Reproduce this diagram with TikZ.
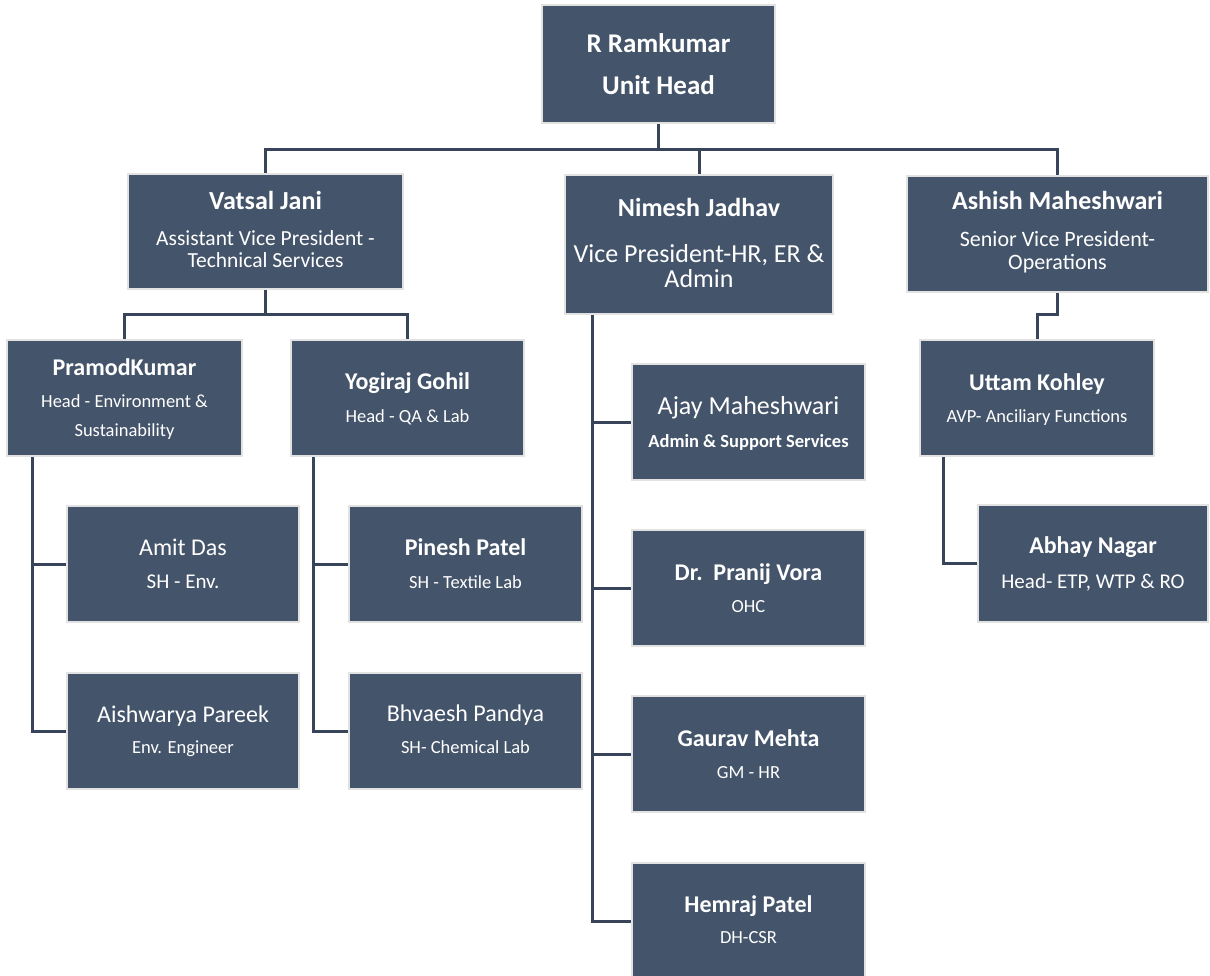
\documentclass[tikz,border=0pt]{standalone}
\usepackage{fontspec}
\setmainfont{Carlito}
\usetikzlibrary{backgrounds}
\definecolor{boxfill}{RGB}{68,84,106}
\definecolor{boxedge}{RGB}{226,226,226}
\definecolor{wirecol}{RGB}{55,68,90}
\tikzset{
  box/.style={rectangle, fill=boxfill, draw=boxedge, line width=2.5pt, inner sep=0pt, outer sep=0pt},
  wire/.style={draw=wirecol, line width=3pt},
  txt/.style n args={2}{font=\fontsize{#1}{#1}\selectfont#2, text=white, inner sep=0pt, anchor=base},
}
\begin{document}
\begin{tikzpicture}[x=1pt,y=-1pt]
\useasboundingbox (0,0) rectangle (1210,976);
% boxes
\node[box, minimum width=233pt, minimum height=118pt] (top) at (658.5,64) {};
\node[box, minimum width=275pt, minimum height=115pt] (vatsal) at (265.5,231.5) {};
\node[box, minimum width=268pt, minimum height=139pt] (nimesh) at (699,244.5) {};
\node[box, minimum width=301pt, minimum height=116pt] (ashish) at (1057.5,234) {};
\node[box, minimum width=235pt, minimum height=116pt] (pramod) at (124.5,398) {};
\node[box, minimum width=233pt, minimum height=116pt] (yogiraj) at (407.5,398) {};
\node[box, minimum width=234pt, minimum height=116pt] (uttam) at (1037,398) {};
\node[box, minimum width=230pt, minimum height=117pt] (abhay) at (1093,563.5) {};
\node[box, minimum width=232pt, minimum height=116pt] (amit) at (183,564) {};
\node[box, minimum width=232pt, minimum height=116pt] (aish) at (183,731) {};
\node[box, minimum width=233pt, minimum height=116pt] (pinesh) at (465.5,564) {};
\node[box, minimum width=233pt, minimum height=116pt] (bhvaesh) at (465.5,731) {};
\node[box, minimum width=233pt, minimum height=116pt] (ajay) at (748.5,422) {};
\node[box, minimum width=233pt, minimum height=116pt] (pranij) at (748.5,588) {};
\node[box, minimum width=233pt, minimum height=116pt] (gaurav) at (748.5,754) {};
\node[box, minimum width=233pt, minimum height=116pt] (hemraj) at (748.5,921) {};
% texts
\node[txt={27}{\bfseries}] (topN) at (658.5,53) {R Ramkumar};
\node[txt={27}{\bfseries}] (topT) at (658.5,95) {Unit Head};
\node[txt={26}{\bfseries}] (vatsalN) at (265.5,210) {Vatsal Jani};
\node[txt={21.5}{}] (vatsalT1) at (265.5,246) {Assistant Vice President -};
\node[txt={21.5}{}] (vatsalT2) at (265.5,268) {Technical Services};
\node[txt={26}{\bfseries}] (nimeshN) at (699,217) {Nimesh Jadhav};
\node[txt={26}{}] (nimeshT1) at (699,263) {Vice President-HR, ER \&};
\node[txt={26}{}] (nimeshT2) at (699,288) {Admin};
\node[txt={26}{\bfseries}] (ashishN) at (1057.5,210) {Ashish Maheshwari};
\node[txt={22}{}] (ashishT1) at (1057.5,247) {Senior Vice President-};
\node[txt={22}{}] (ashishT2) at (1057.5,270) {Operations};
\node[txt={24}{\bfseries}] (pramodN) at (124.5,375) {PramodKumar};
\node[txt={18.5}{}] (pramodT1) at (124.5,407) {Head - Environment \&};
\node[txt={18.5}{}] (pramodT2) at (124.5,436) {Sustainability};
\node[txt={24}{\bfseries}] (yogirajN) at (407.5,389) {Yogiraj Gohil};
\node[txt={18.5}{}] (yogirajT) at (407.5,422) {Head - QA \& Lab};
\node[txt={24}{\bfseries}] (uttamN) at (1037,390) {Uttam Kohley};
\node[txt={18.5}{}] (uttamT) at (1037,422) {AVP- Anciliary Functions};
\node[txt={24}{\bfseries}] (abhayN) at (1093,553) {Abhay Nagar};
\node[txt={21}{}] (abhayT) at (1093,588) {Head- ETP, WTP \& RO};
\node[txt={24}{}] (amitN) at (183,555) {Amit Das};
\node[txt={21}{}] (amitT) at (183,588) {SH - Env.};
\node[txt={24}{}] (aishN) at (183,722) {Aishwarya Pareek};
\node[txt={18.5}{}] (aishT) at (183,753) {Env. Engineer};
\node[txt={24}{\bfseries}] (pineshN) at (465.5,555) {Pinesh Patel};
\node[txt={18.5}{}] (pineshT) at (465.5,588) {SH - Textile Lab};
\node[txt={24}{}] (bhvaeshN) at (465.5,721) {Bhvaesh Pandya};
\node[txt={18.5}{}] (bhvaeshT) at (465.5,753) {SH- Chemical Lab};
\node[txt={26}{}] (ajayN) at (748.5,414) {Ajay Maheshwari};
\node[txt={18.5}{\bfseries}] (ajayT) at (748.5,447) {Admin \& Support Services};
\node[txt={24}{\bfseries}] (pranijN) at (748.5,580) {Dr.\ \ Pranij Vora};
\node[txt={18.5}{}] (pranijT) at (748.5,612) {OHC};
\node[txt={24}{\bfseries}] (gauravN) at (748.5,746) {Gaurav Mehta};
\node[txt={18.5}{}] (gauravT) at (748.5,778) {GM - HR};
\node[txt={24}{\bfseries}] (hemrajN) at (748.5,912) {Hemraj Patel};
\node[txt={18.5}{}] (hemrajT) at (748.5,943) {DH-CSR};
% connectors
\coordinate (j0) at (658.5,150);
\coordinate (j1) at (265.5,315);
\coordinate (j2) at (1057.5,315);
\coordinate (u0) at ([xshift=23pt]uttam.south west);
\coordinate (p0) at ([xshift=25pt]pramod.south west);
\coordinate (y0) at ([xshift=22pt]yogiraj.south west);
\coordinate (n0) at ([xshift=27pt]nimesh.south west);
\begin{scope}[on background layer]
\fill[white] (0,0) rectangle (1210,976);
\draw[wire] (top.south) -- (j0);
\draw[wire] (vatsal.north) |- (j0) -| (ashish.north);
\draw[wire] (nimesh.north) -- (nimesh.north |- j0);
\draw[wire] (vatsal.south) -- (j1);
\draw[wire] (pramod.north) |- (j1) -| (yogiraj.north);
\draw[wire] (ashish.south) -- (j2) -| (uttam.north);
\draw[wire] (u0) |- (abhay.west);
\draw[wire] (p0) |- (aish.west);
\draw[wire] (p0 |- amit.west) -- (amit.west);
\draw[wire] (y0) |- (bhvaesh.west);
\draw[wire] (y0 |- pinesh.west) -- (pinesh.west);
\draw[wire] (n0) |- (hemraj.west);
\draw[wire] (n0 |- ajay.west) -- (ajay.west);
\draw[wire] (n0 |- pranij.west) -- (pranij.west);
\draw[wire] (n0 |- gaurav.west) -- (gaurav.west);
\end{scope}
\end{tikzpicture}
\end{document}
